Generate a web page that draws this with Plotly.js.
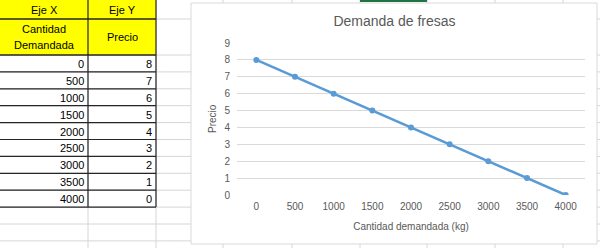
<!DOCTYPE html>
<html>
<head>
<meta charset="utf-8">
<script src="https://cdn.plot.ly/plotly-3.0.1.min.js"></script>
<style>html,body{margin:0;padding:0;background:#fff;}#chart{width:600px;height:248px;}</style>
</head>
<body>
<div id="chart"></div>
<script>
// ---- data ----
const cantidad = [0, 500, 1000, 1500, 2000, 2500, 3000, 3500, 4000];
const precio = [8, 7, 6, 5, 4, 3, 2, 1, 0];
const xTickVals = [0, 500, 1000, 1500, 2000, 2500, 3000, 3500, 4000];
const yTickVals = [0, 1, 2, 3, 4, 5, 6, 7, 8, 9];
const axisHeaders = ['Eje X', 'Eje Y'];
const colHeaders = [['Cantidad', 'Demandada'], ['Precio']];
const chartTitle = 'Demanda de fresas';
const xTitle = 'Cantidad demandada (kg)';
const yTitle = 'Precio';

// ---- layout helpers (pixel -> paper) ----
const W = 600, H = 248;
const px = x => x / W;
const py = y => 1 - y / H;

const gridColor = '#d6d6d6';
const colEdges = [0, 88, 156, 223, 292, 360, 427, 495, 563];
const rowH = 16.9;
const dataTop = 55;
const rowEdges = [19, 55];
for (let i = 1; i <= cantidad.length + 2; i++) rowEdges.push(dataTop + i * rowH);

const shapes = [];
// spreadsheet gridlines
colEdges.slice(1).forEach(x => shapes.push({type:'line', xref:'paper', yref:'paper', layer:'below',
  x0:px(x), x1:px(x), y0:py(0), y1:py(H), line:{color:gridColor, width:1}}));
rowEdges.forEach(y => shapes.push({type:'line', xref:'paper', yref:'paper', layer:'below',
  x0:px(0), x1:px(W), y0:py(y), y1:py(y), line:{color:gridColor, width:1}}));
// selected cell indicator (green)
shapes.push({type:'line', xref:'paper', yref:'paper', layer:'below',
  x0:px(360), x1:px(427), y0:py(1), y1:py(1), line:{color:'#217346', width:2}});
// yellow header fill
shapes.push({type:'rect', xref:'paper', yref:'paper', layer:'below',
  x0:px(0), x1:px(156), y0:py(0), y1:py(55), fillcolor:'#ffff00', line:{width:0}});
// table borders
const tableBottom = dataTop + cantidad.length * rowH;
const border = {color:'#262626', width:1.2};
[19, 55].forEach(y => shapes.push({type:'line', xref:'paper', yref:'paper', layer:'below',
  x0:px(0), x1:px(156), y0:py(y), y1:py(y), line:{color:'#262626', width:1.6}}));
for (let i = 1; i <= cantidad.length; i++) {
  const y = dataTop + i * rowH;
  shapes.push({type:'line', xref:'paper', yref:'paper', layer:'below',
    x0:px(0), x1:px(156), y0:py(y), y1:py(y), line:border});
}
[88, 156].forEach(x => shapes.push({type:'line', xref:'paper', yref:'paper', layer:'below',
  x0:px(x), x1:px(x), y0:py(0), y1:py(tableBottom), line:border}));
// chart area
shapes.push({type:'rect', xref:'paper', yref:'paper', layer:'below',
  x0:px(191), x1:px(597), y0:py(3), y1:py(244), fillcolor:'#ffffff', line:{color:'#d9d9d9', width:1}});

// table text
const tFont = {family:'Liberation Sans, Arial, sans-serif', size:11, color:'#000000'};
const annotations = [];
const colCenters = [44, 122];
const colRights = [86, 154];
axisHeaders.forEach((t, i) => annotations.push({xref:'paper', yref:'paper', x:px(colCenters[i]), y:py(9.5),
  text:t, showarrow:false, xanchor:'center', yanchor:'middle', font:tFont}));
colHeaders.forEach((lines, i) => {
  const mid = 37, gap = 15;
  lines.forEach((t, j) => {
    const yc = mid + (j - (lines.length - 1) / 2) * gap;
    annotations.push({xref:'paper', yref:'paper', x:px(colCenters[i]), y:py(yc),
      text:t, showarrow:false, xanchor:'center', yanchor:'middle', font:tFont});
  });
});
[cantidad, precio].forEach((col, i) => col.forEach((v, r) => {
  annotations.push({xref:'paper', yref:'paper', x:px(colRights[i]), y:py(dataTop + (r + 0.5) * rowH + 0.5),
    text:String(v), showarrow:false, xanchor:'right', yanchor:'middle', font:tFont});
}));

const grey = '#595959';
const axFont = {family:'Liberation Sans, Arial, sans-serif', size:10, color:grey};

// y-axis title placed precisely
annotations.push({xref:'paper', yref:'paper', x:px(212), y:py(119), text:yTitle, textangle:-90,
  showarrow:false, xanchor:'center', yanchor:'middle', font:axFont});

const trace = {
  x: cantidad, y: precio, type:'scatter', mode:'lines+markers',
  line:{color:'#5b9bd5', width:2.5},
  marker:{color:'#5b9bd5', size:6},
  hoverinfo:'skip'
};

const layout = {
  width: W, height: H,
  margin:{l:0, r:0, t:0, b:0, pad:0},
  paper_bgcolor:'#ffffff',
  plot_bgcolor:'rgba(0,0,0,0)',
  showlegend:false,
  title:{text:chartTitle, x:px(394.5), xref:'paper', xanchor:'center', y:py(21), yref:'paper', yanchor:'middle',
    font:{family:'Liberation Sans, Arial, sans-serif', size:14, color:grey}},
  xaxis:{domain:[px(237), px(585)], range:[-250, 4250], tickvals:xTickVals, ticktext:xTickVals.map(String),
    showgrid:false, zeroline:false, showline:false, ticks:'', tickfont:axFont, automargin:false, ticklabelstandoff:4,
    title:{text:xTitle, font:axFont, standoff:11}},
  yaxis:{domain:[py(195), py(43)], range:[0, 9], tickvals:yTickVals, showgrid:true, gridcolor:'#d9d9d9', gridwidth:1,
    zeroline:false, showline:false, ticks:'', tickfont:axFont, automargin:false, ticklabelstandoff:6},
  shapes: shapes,
  annotations: annotations
};

Plotly.newPlot('chart', [trace], layout, {staticPlot:true, displayModeBar:false});
</script>
</body>
</html>
